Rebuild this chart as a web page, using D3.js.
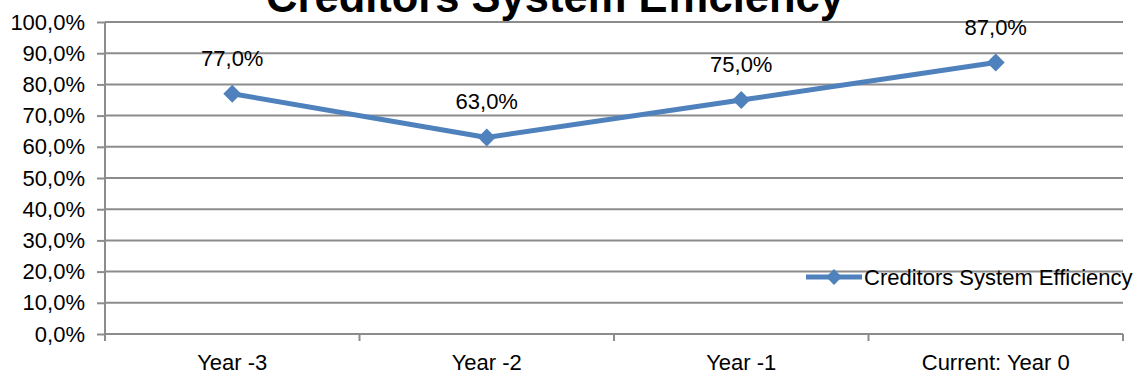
<!DOCTYPE html>
<html>
<head>
<meta charset="utf-8">
<script src="https://cdn.jsdelivr.net/npm/d3@7"></script>
<style>
  html, body { margin: 0; padding: 0; background: #fff; }
  svg { display: block; font-family: "Liberation Sans", Arial, sans-serif; }
</style>
</head>
<body>
<svg id="chart" width="1140" height="381"></svg>
<script>
// Chart data
const categories = ["Year -3", "Year -2", "Year -1", "Current: Year 0"];
const efficiency = [77.0, 63.0, 75.0, 87.0];
const yTicks = [0, 10, 20, 30, 40, 50, 60, 70, 80, 90, 100];
const seriesName = "Creditors System Efficiency";
const chartTitle = "Creditors System Efficiency";

const W = 1140, H = 381;
const margin = { left: 105, right: 17, top: 22, bottom: 47 };
const svg = d3.select("#chart");

const x = d3.scaleBand().domain(categories).range([margin.left, W - margin.right]);
const y = d3.scaleLinear().domain([0, 100]).range([H - margin.bottom, margin.top]);

const fmt = v => v.toFixed(1).replace(".", ",") + "%";
const gridColor = "#8c8c8c";
const blue = "#4f81bd";
const fs = 22;

// Title (sits partly above the top edge)
svg.append("text")
  .attr("x", 555).attr("y", 12)
  .attr("text-anchor", "middle")
  .attr("font-weight", "bold")
  .attr("font-size", 43.5)
  .attr("fill", "#000")
  .text(chartTitle);

// Horizontal gridlines
svg.append("g").selectAll("line").data(yTicks.filter(d => d > 0)).join("line")
  .attr("x1", margin.left).attr("x2", W - margin.right)
  .attr("y1", d => y(d)).attr("y2", d => y(d))
  .attr("stroke", gridColor).attr("stroke-width", 2);

// Y axis
const yAxis = svg.append("g")
  .attr("transform", `translate(${margin.left},0)`)
  .call(d3.axisLeft(y).tickValues(yTicks).tickFormat(fmt).tickSize(8).tickPadding(12));
yAxis.select(".domain").attr("stroke", gridColor).attr("stroke-width", 2)
  .attr("d", `M0,${y(100)}V${y(0) + 6}`);
yAxis.selectAll(".tick line").attr("stroke", gridColor).attr("stroke-width", 2);
yAxis.selectAll(".tick text").attr("font-size", fs).attr("fill", "#000")
  .attr("font-family", "Liberation Sans, Arial, sans-serif");

// X axis with ticks at category boundaries
const xAxisG = svg.append("g").attr("transform", `translate(0,${y(0)})`);
xAxisG.append("line")
  .attr("x1", margin.left).attr("x2", W - margin.right)
  .attr("stroke", gridColor).attr("stroke-width", 2);
const bounds = categories.map(c => x(c)).concat([x(categories[categories.length - 1]) + x.bandwidth()]);
xAxisG.selectAll(".btick").data(bounds).join("line")
  .attr("x1", d => d).attr("x2", d => d).attr("y1", 0).attr("y2", 7)
  .attr("stroke", gridColor).attr("stroke-width", 2);
xAxisG.selectAll(".xlabel").data(categories).join("text")
  .attr("x", d => x(d) + x.bandwidth() / 2)
  .attr("y", 36)
  .attr("text-anchor", "middle")
  .attr("font-size", fs)
  .attr("fill", "#000")
  .text(d => d);

// Series line
const cx = (d, i) => x(categories[i]) + x.bandwidth() / 2;
svg.append("path")
  .datum(efficiency)
  .attr("d", d3.line().x(cx).y(d => y(d)))
  .attr("fill", "none").attr("stroke", blue).attr("stroke-width", 5)
  .attr("stroke-linejoin", "round");

// Diamond markers (squares turned by 45 degrees)
const diamond = d3.symbol().type(d3.symbolSquare).size(160);
svg.append("g").selectAll("path").data(efficiency).join("path")
  .attr("transform", (d, i) => `translate(${cx(d, i)},${y(d)}) rotate(45)`)
  .attr("d", diamond)
  .attr("fill", blue);

// Data labels
svg.append("g").selectAll("text").data(efficiency).join("text")
  .attr("x", (d, i) => cx(d, i))
  .attr("y", d => y(d) - 28)
  .attr("text-anchor", "middle")
  .attr("font-size", fs)
  .attr("fill", "#000")
  .text(fmt);

// Legend
const lg = svg.append("g").attr("transform", "translate(806,277)");
lg.append("line").attr("x1", 0).attr("x2", 56)
  .attr("stroke", blue).attr("stroke-width", 5);
lg.append("path").attr("transform", "translate(28,0) rotate(45)")
  .attr("d", d3.symbol().type(d3.symbolSquare).size(125)).attr("fill", blue);
lg.append("text").attr("x", 58).attr("y", 8)
  .attr("font-size", fs).attr("fill", "#000")
  .text(seriesName);
</script>
</body>
</html>
